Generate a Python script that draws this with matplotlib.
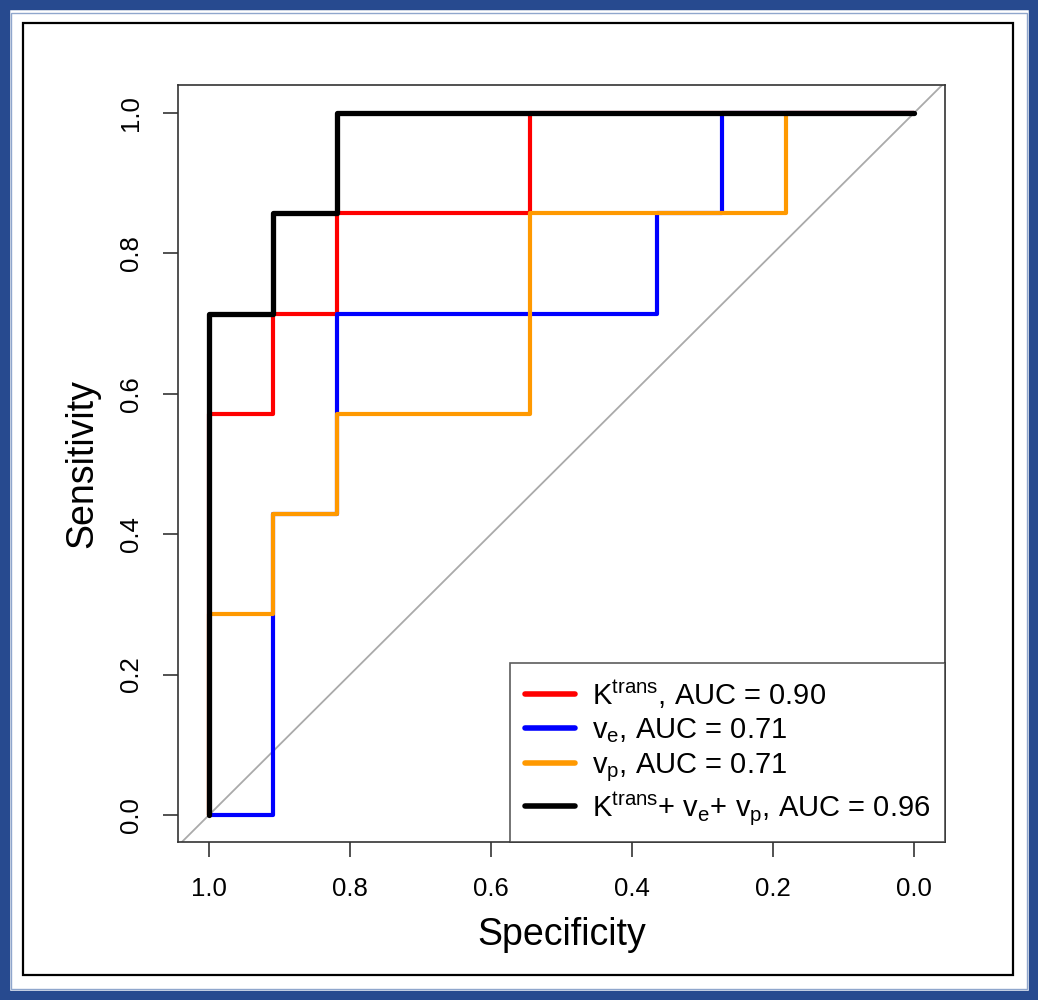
import matplotlib
matplotlib.use("Agg")
import matplotlib.pyplot as plt
from matplotlib.patches import Rectangle

plt.rcParams['font.family'] = ['Liberation Sans', 'DejaVu Sans']
plt.rcParams['mathtext.fontset'] = 'custom'
plt.rcParams['mathtext.rm'] = 'Liberation Sans'
plt.rcParams['mathtext.it'] = 'Liberation Sans:italic'

# ROC step data (specificity, sensitivity)
ktrans_spec = [1.0, 1.0, 0.909, 0.909, 0.818, 0.818, 0.545, 0.545, 0.0]
ktrans_sens = [0.0, 0.571, 0.571, 0.714, 0.714, 0.857, 0.857, 1.0, 1.0]

ve_spec = [1.0, 0.909, 0.909, 0.818, 0.818, 0.364, 0.364, 0.273, 0.273, 0.0]
ve_sens = [0.0, 0.0, 0.429, 0.429, 0.714, 0.714, 0.857, 0.857, 1.0, 1.0]

vp_spec = [1.0, 1.0, 0.909, 0.909, 0.818, 0.818, 0.545, 0.545, 0.182, 0.182, 0.0]
vp_sens = [0.0, 0.286, 0.286, 0.429, 0.429, 0.571, 0.571, 0.857, 0.857, 1.0, 1.0]

comb_spec = [1.0, 1.0, 0.909, 0.909, 0.818, 0.818, 0.0]
comb_sens = [0.0, 0.714, 0.714, 0.857, 0.857, 1.0, 1.0]

labels = [r"K$^{\mathregular{trans}}$, AUC = 0.90",
          r"v$_{\mathregular{e}}$, AUC = 0.71",
          r"v$_{\mathregular{p}}$, AUC = 0.71",
          r"K$^{\mathregular{trans}}$+ v$_{\mathregular{e}}$+ v$_{\mathregular{p}}$, AUC = 0.96"]

ticks = [0.0, 0.2, 0.4, 0.6, 0.8, 1.0]
tick_labels = ["0.0", "0.2", "0.4", "0.6", "0.8", "1.0"]

fig = plt.figure(figsize=(10.38, 10.0), dpi=100)
fig.patch.set_facecolor('white')

# outer decorative frames
blue = '#274a8f'
fig.patches.append(Rectangle((0.0, 0.0), 1.0, 1.0, transform=fig.transFigure,
                             fill=False, edgecolor=blue, linewidth=14, zorder=0))
fig.patches.append(Rectangle((11/1038, 11/1000), (1038-22)/1038, (1000-24)/1000,
                             transform=fig.transFigure, fill=False,
                             edgecolor='#8fa6cc', linewidth=1.0, zorder=0))
fig.patches.append(Rectangle((23/1038, 1 - 975/1000), (1013-23)/1038, (975-23)/1000,
                             transform=fig.transFigure, fill=False,
                             edgecolor='black', linewidth=1.6, zorder=0))

ax = fig.add_axes([178/1038, 1 - 842/1000, (945-178)/1038, (842-85)/1000])

ax.axline((1.0, 0.0), (0.0, 1.0), color='#aaaaaa', linewidth=1.3, zorder=1)

ax.plot(ktrans_spec, ktrans_sens, color='#ff0000', linewidth=3.0,
        solid_joinstyle='round', solid_capstyle='round', label=labels[0], zorder=2)
ax.plot(ve_spec, ve_sens, color='#0000ff', linewidth=3.0,
        solid_joinstyle='round', solid_capstyle='round', label=labels[1], zorder=3)
ax.plot(vp_spec, vp_sens, color='#ff9900', linewidth=3.0,
        solid_joinstyle='round', solid_capstyle='round', label=labels[2], zorder=4)
ax.plot(comb_spec, comb_sens, color='#000000', linewidth=3.8,
        solid_joinstyle='round', solid_capstyle='round', label=labels[3], zorder=5)

ax.set_xlim(1.044, -0.044)
ax.set_ylim(-0.0385, 1.04)
ax.set_xticks(ticks)
ax.set_xticklabels(tick_labels)
ax.set_yticks(ticks)
ax.set_yticklabels(tick_labels, rotation=90, va='center')

ax.tick_params(axis='both', direction='out', length=11, width=1.1,
               labelsize=18.5, color='#222222')
ax.tick_params(axis='x', pad=14)
ax.tick_params(axis='y', pad=14)
for s in ax.spines.values():
    s.set_linewidth(1.2)
    s.set_color('#333333')

ax.set_xlabel("Specificity", fontsize=27, labelpad=12)
ax.set_ylabel("Sensitivity", fontsize=27, labelpad=14)

leg = ax.legend(loc='lower right', fontsize=21, frameon=True, fancybox=False,
                borderaxespad=0.0, handlelength=1.7, handletextpad=0.6,
                labelspacing=0.2, borderpad=0.5)
leg.get_frame().set_edgecolor('#333333')
leg.get_frame().set_linewidth(1.2)
for ln in leg.get_lines():
    ln.set_linewidth(4.0)

fig.savefig("out.png", dpi=100)
